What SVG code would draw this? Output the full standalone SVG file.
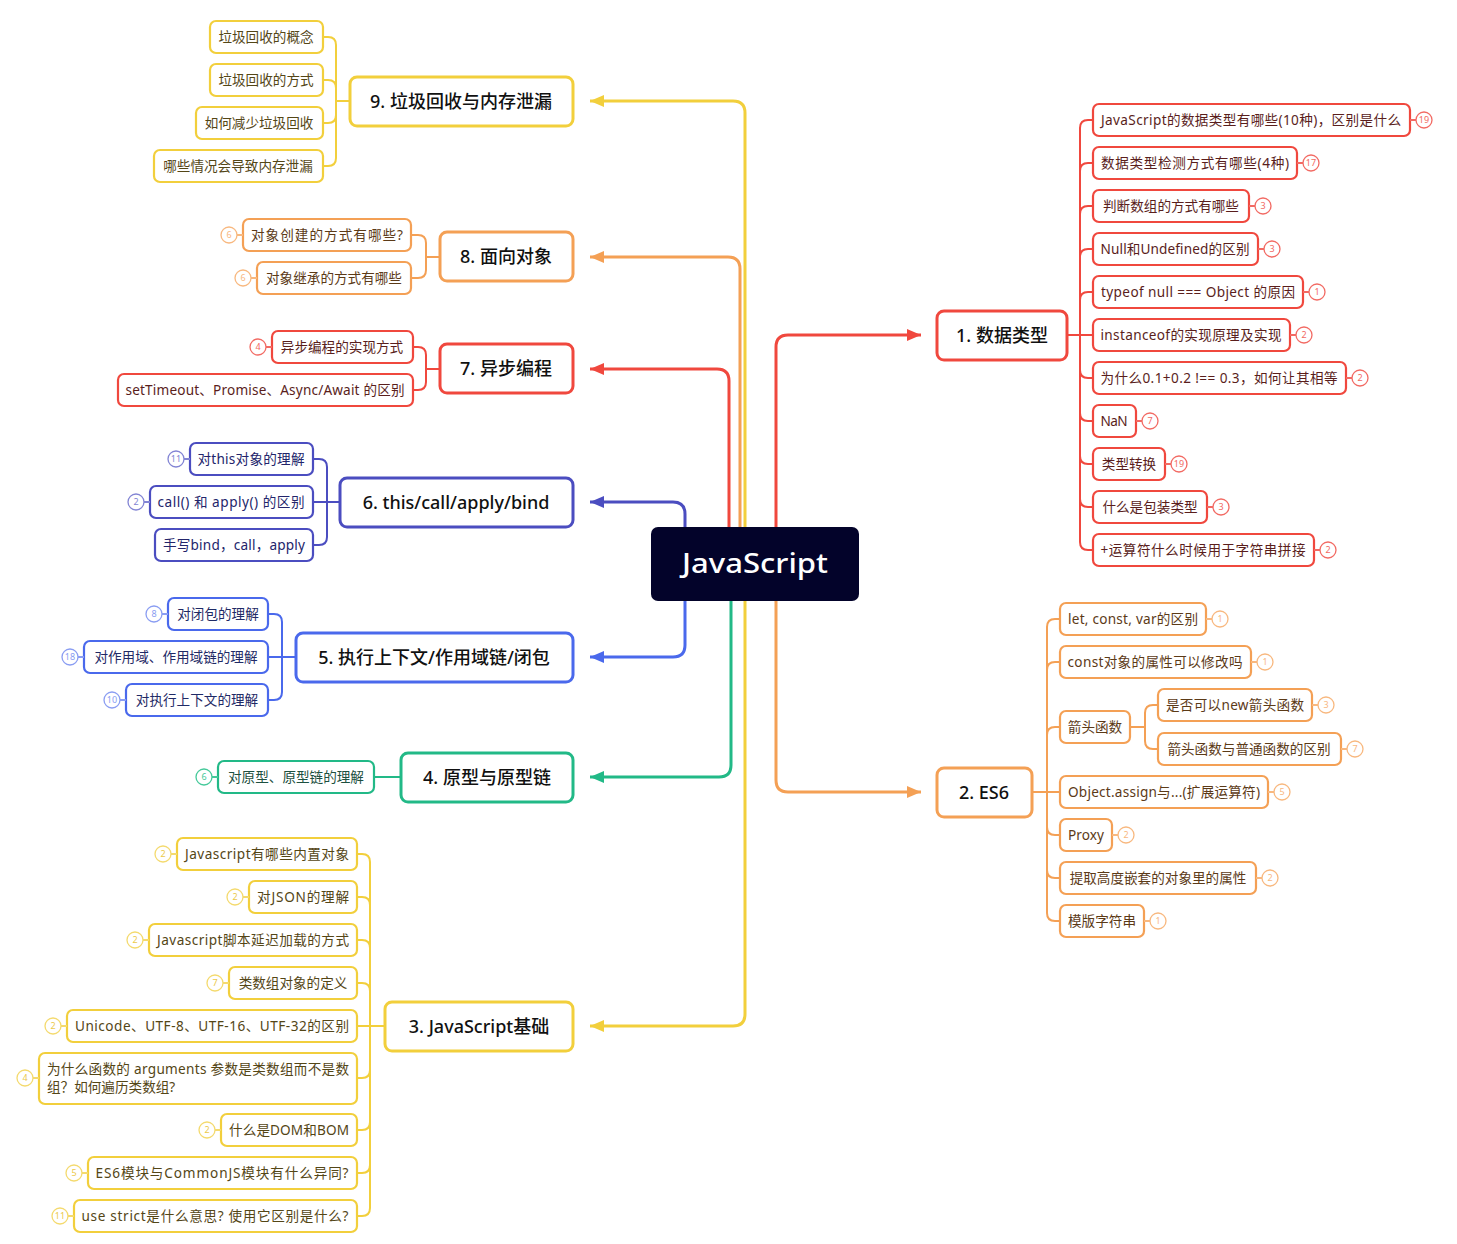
<svg xmlns="http://www.w3.org/2000/svg" width="1457" height="1244" viewBox="0 0 1457 1244">
<defs>
<style>
text{font-family:"Noto Sans","Noto Sans CJK SC",sans-serif}
.c{text-anchor:middle}
.sub{font-size:13.6px}
.mt{font-size:18px;font-weight:500;fill:#111;text-anchor:middle}
.bn{font-size:9px;text-anchor:middle}
.box{fill:#fff;stroke-width:2.2}
.mb{fill:#fff;stroke-width:3}
.ln{fill:none;stroke-width:2}
.cn{fill:none;stroke-width:3}
.bd{fill:#fff;stroke-width:1.3}
.r{stroke:#F0483E}.o{stroke:#F4A055}.y{stroke:#F2CF3C}.g{stroke:#22B987}.b{stroke:#4A69EC}.i{stroke:#4B4DC0}
.rb{stroke:#F26A63}.ob{stroke:#F8B87F}.yb{stroke:#F4DA6E}.gb{stroke:#45C99A}.bb{stroke:#8A9DF2}.ib{stroke:#8284D4}
.tr{fill:#5A1E1C}.to{fill:#5C3A17}.ty{fill:#544616}.tg{fill:#1D5040}.tb{fill:#1F2A66}.ti{fill:#23256B}
.nr{fill:#F26A63}.no{fill:#F8B87F}.ny{fill:#EBC94A}.ng{fill:#45C99A}.nb{fill:#8A9DF2}.ni{fill:#8284D4}
</style>
<marker id="aR" markerUnits="userSpaceOnUse" markerWidth="16" markerHeight="14" refX="14" refY="6" orient="auto"><path d="M0,0 L14,6 L0,12 z" fill="#F0483E"/></marker>
<marker id="aO" markerUnits="userSpaceOnUse" markerWidth="16" markerHeight="14" refX="14" refY="6" orient="auto"><path d="M0,0 L14,6 L0,12 z" fill="#F4A055"/></marker>
<marker id="aY" markerUnits="userSpaceOnUse" markerWidth="16" markerHeight="14" refX="14" refY="6" orient="auto"><path d="M0,0 L14,6 L0,12 z" fill="#F2CF3C"/></marker>
<marker id="aG" markerUnits="userSpaceOnUse" markerWidth="16" markerHeight="14" refX="14" refY="6" orient="auto"><path d="M0,0 L14,6 L0,12 z" fill="#22B987"/></marker>
<marker id="aB" markerUnits="userSpaceOnUse" markerWidth="16" markerHeight="14" refX="14" refY="6" orient="auto"><path d="M0,0 L14,6 L0,12 z" fill="#4A69EC"/></marker>
<marker id="aI" markerUnits="userSpaceOnUse" markerWidth="16" markerHeight="14" refX="14" refY="6" orient="auto"><path d="M0,0 L14,6 L0,12 z" fill="#4B4DC0"/></marker>
</defs>
<rect width="1457" height="1244" fill="#fff"/>

<g id="connectors">
<path class="cn r" d="M776,527V347Q776,335 788,335H921" marker-end="url(#aR)"/>
<path class="cn o" d="M776,601V780Q776,792 788,792H921" marker-end="url(#aO)"/>
<path class="cn y" d="M745,527V113Q745,101 733,101H590" marker-end="url(#aY)"/>
<path class="cn y" d="M745,601V1014Q745,1026 733,1026H590" marker-end="url(#aY)"/>
<path class="cn o" d="M740,527V269Q740,257 728,257H590" marker-end="url(#aO)"/>
<path class="cn r" d="M729,527V381Q729,369 717,369H590" marker-end="url(#aR)"/>
<path class="cn i" d="M685,527V514Q685,502 673,502H590" marker-end="url(#aI)"/>
<path class="cn b" d="M685,601V645Q685,657 673,657H590" marker-end="url(#aB)"/>
<path class="cn g" d="M731,601V765Q731,777 719,777H590" marker-end="url(#aG)"/>

<path class="ln r" d="M1067,335H1093M1080,335V128Q1080,120 1088,120H1093M1080,335V171Q1080,163 1088,163H1093M1080,335V214Q1080,206 1088,206H1093M1080,335V257Q1080,249 1088,249H1093M1080,335V300Q1080,292 1088,292H1093M1080,335V370Q1080,378 1088,378H1093M1080,335V413Q1080,421 1088,421H1093M1080,335V456Q1080,464 1088,464H1093M1080,335V499Q1080,507 1088,507H1093M1080,335V542Q1080,550 1088,550H1093"/>
<path class="ln o" d="M1032,792H1060M1047,792V627Q1047,619 1055,619H1060M1047,792V670Q1047,662 1055,662H1060M1047,792V735Q1047,727 1055,727H1060M1047,792V827Q1047,835 1055,835H1060M1047,792V870Q1047,878 1055,878H1060M1047,792V913Q1047,921 1055,921H1060"/>
<path class="ln o" d="M1130,727H1145V713Q1145,705 1153,705H1158M1145,727V741Q1145,749 1153,749H1158"/>
<path class="ln y" d="M350,101H336V45Q336,37 328,37H323M336,101V88Q336,80 328,80H323M336,101V115Q336,123 328,123H323M336,101V158Q336,166 328,166H323"/>
<path class="ln o" d="M440,257H426V243Q426,235 418,235H411M426,257V270Q426,278 418,278H411"/>
<path class="ln r" d="M440,369H426V355Q426,347 418,347H413M426,369V382Q426,390 418,390H413"/>
<path class="ln i" d="M340,502H313M327,502V467Q327,459 319,459H313M327,502V537Q327,545 319,545H313"/>
<path class="ln b" d="M296,657H268M282,657V622Q282,614 274,614H268M282,657V692Q282,700 274,700H268"/>
<path class="ln g" d="M401,777H374"/>
<path class="ln y" d="M385,1026H357M370,1026V862Q370,854 362,854H357M370,1026V905Q370,897 362,897H357M370,1026V948Q370,940 362,940H357M370,1026V991Q370,983 362,983H357M370,1026V1070Q370,1078 362,1078H357M370,1026V1122Q370,1130 362,1130H357M370,1026V1165Q370,1173 362,1173H357M370,1026V1208Q370,1216 362,1216H357"/>
</g>

<g id="center">
<rect x="651" y="527" width="208" height="74" rx="7" fill="#03032A"/>
<text x="0" y="0" class="c" transform="translate(755,573) scale(1.15,1)" font-size="27" font-weight="500" fill="#fff">JavaScript</text>
</g>

<g id="n1">
<rect class="mb r" x="937" y="311" width="130" height="49" rx="7"/>
<text class="mt" x="1002" y="342">1. 数据类型</text>
</g>
<g id="n1-1"><rect class="box r" x="1093" y="104" width="317" height="32" rx="6"/><text class="sub c tr" x="1251" y="125" textLength="300">JavaScript的数据类型有哪些(10种)，区别是什么</text><path class="ln rb" d="M1410,120H1416"/><circle class="bd rb" cx="1424" cy="120" r="8"/><text class="bn nr" x="1424" y="123">19</text></g>
<g id="n1-2"><rect class="box r" x="1093" y="147" width="204" height="32" rx="6"/><text class="sub c tr" x="1195" y="168" textLength="188">数据类型检测方式有哪些(4种)</text><path class="ln rb" d="M1297,163H1303"/><circle class="bd rb" cx="1311" cy="163" r="8"/><text class="bn nr" x="1311" y="166">17</text></g>
<g id="n1-3"><rect class="box r" x="1093" y="190" width="156" height="32" rx="6"/><text class="sub c tr" x="1171" y="211">判断数组的方式有哪些</text><path class="ln rb" d="M1249,206H1255"/><circle class="bd rb" cx="1263" cy="206" r="8"/><text class="bn nr" x="1263" y="209">3</text></g>
<g id="n1-4"><rect class="box r" x="1093" y="233" width="165" height="32" rx="6"/><text class="sub c tr" x="1175" y="254" textLength="149">Null和Undefined的区别</text><path class="ln rb" d="M1258,249H1264"/><circle class="bd rb" cx="1272" cy="249" r="8"/><text class="bn nr" x="1272" y="252">3</text></g>
<g id="n1-5"><rect class="box r" x="1093" y="276" width="210" height="32" rx="6"/><text class="sub c tr" x="1198" y="297" textLength="194">typeof null === Object 的原因</text><path class="ln rb" d="M1303,292H1309"/><circle class="bd rb" cx="1317" cy="292" r="8"/><text class="bn nr" x="1317" y="295">1</text></g>
<g id="n1-6"><rect class="box r" x="1093" y="319" width="197" height="32" rx="6"/><text class="sub c tr" x="1191" y="340" textLength="181">instanceof的实现原理及实现</text><path class="ln rb" d="M1290,335H1296"/><circle class="bd rb" cx="1304" cy="335" r="8"/><text class="bn nr" x="1304" y="338">2</text></g>
<g id="n1-7"><rect class="box r" x="1093" y="362" width="253" height="32" rx="6"/><text class="sub c tr" x="1219" y="383" textLength="237">为什么0.1+0.2 !== 0.3，如何让其相等</text><path class="ln rb" d="M1346,378H1352"/><circle class="bd rb" cx="1360" cy="378" r="8"/><text class="bn nr" x="1360" y="381">2</text></g>
<g id="n1-8"><rect class="box r" x="1093" y="405" width="43" height="32" rx="6"/><text class="sub c tr" x="1114" y="426" textLength="27">NaN</text><path class="ln rb" d="M1136,421H1142"/><circle class="bd rb" cx="1150" cy="421" r="8"/><text class="bn nr" x="1150" y="424">7</text></g>
<g id="n1-9"><rect class="box r" x="1093" y="448" width="72" height="32" rx="6"/><text class="sub c tr" x="1129" y="469">类型转换</text><path class="ln rb" d="M1165,464H1171"/><circle class="bd rb" cx="1179" cy="464" r="8"/><text class="bn nr" x="1179" y="467">19</text></g>
<g id="n1-10"><rect class="box r" x="1093" y="491" width="114" height="32" rx="6"/><text class="sub c tr" x="1150" y="512">什么是包装类型</text><path class="ln rb" d="M1207,507H1213"/><circle class="bd rb" cx="1221" cy="507" r="8"/><text class="bn nr" x="1221" y="510">3</text></g>
<g id="n1-11"><rect class="box r" x="1093" y="534" width="221" height="32" rx="6"/><text class="sub c tr" x="1203" y="555" textLength="205">+运算符什么时候用于字符串拼接</text><path class="ln rb" d="M1314,550H1320"/><circle class="bd rb" cx="1328" cy="550" r="8"/><text class="bn nr" x="1328" y="553">2</text></g>

<g id="n2">
<rect class="mb o" x="937" y="768" width="95" height="49" rx="7"/>
<text class="mt" x="984" y="799">2. ES6</text>
</g>
<g id="n2-1"><rect class="box o" x="1060" y="603" width="146" height="32" rx="6"/><text class="sub c to" x="1133" y="624" textLength="130">let, const, var的区别</text><path class="ln ob" d="M1206,619H1212"/><circle class="bd ob" cx="1220" cy="619" r="8"/><text class="bn no" x="1220" y="622">1</text></g>
<g id="n2-2"><rect class="box o" x="1060" y="646" width="191" height="32" rx="6"/><text class="sub c to" x="1155" y="667" textLength="175">const对象的属性可以修改吗</text><path class="ln ob" d="M1251,662H1257"/><circle class="bd ob" cx="1265" cy="662" r="8"/><text class="bn no" x="1265" y="665">1</text></g>
<g id="n2-3"><rect class="box o" x="1060" y="711" width="70" height="32" rx="6"/><text class="sub c to" x="1095" y="732">箭头函数</text></g>
<g id="n2-3-1"><rect class="box o" x="1158" y="689" width="154" height="32" rx="6"/><text class="sub c to" x="1235" y="710" textLength="138">是否可以new箭头函数</text><path class="ln ob" d="M1312,705H1318"/><circle class="bd ob" cx="1326" cy="705" r="8"/><text class="bn no" x="1326" y="708">3</text></g>
<g id="n2-3-2"><rect class="box o" x="1158" y="733" width="183" height="32" rx="6"/><text class="sub c to" x="1249" y="754">箭头函数与普通函数的区别</text><path class="ln ob" d="M1341,749H1347"/><circle class="bd ob" cx="1355" cy="749" r="8"/><text class="bn no" x="1355" y="752">7</text></g>
<g id="n2-4"><rect class="box o" x="1060" y="776" width="208" height="32" rx="6"/><text class="sub c to" x="1164" y="797" textLength="192">Object.assign与...(扩展运算符)</text><path class="ln ob" d="M1268,792H1274"/><circle class="bd ob" cx="1282" cy="792" r="8"/><text class="bn no" x="1282" y="795">5</text></g>
<g id="n2-5"><rect class="box o" x="1060" y="819" width="52" height="32" rx="6"/><text class="sub c to" x="1086" y="840" textLength="36">Proxy</text><path class="ln ob" d="M1112,835H1118"/><circle class="bd ob" cx="1126" cy="835" r="8"/><text class="bn no" x="1126" y="838">2</text></g>
<g id="n2-6"><rect class="box o" x="1060" y="862" width="196" height="32" rx="6"/><text class="sub c to" x="1158" y="883">提取高度嵌套的对象里的属性</text><path class="ln ob" d="M1256,878H1262"/><circle class="bd ob" cx="1270" cy="878" r="8"/><text class="bn no" x="1270" y="881">2</text></g>
<g id="n2-7"><rect class="box o" x="1060" y="905" width="84" height="32" rx="6"/><text class="sub c to" x="1102" y="926">模版字符串</text><path class="ln ob" d="M1144,921H1150"/><circle class="bd ob" cx="1158" cy="921" r="8"/><text class="bn no" x="1158" y="924">1</text></g>

<g id="n9">
<rect class="mb y" x="350" y="77" width="223" height="49" rx="7"/>
<text class="mt" x="461" y="108">9. 垃圾回收与内存泄漏</text>
</g>
<g id="n9-1"><rect class="box y" x="210" y="21" width="113" height="32" rx="6"/><text class="sub c ty" x="266" y="42">垃圾回收的概念</text></g>
<g id="n9-2"><rect class="box y" x="210" y="64" width="113" height="32" rx="6"/><text class="sub c ty" x="266" y="85">垃圾回收的方式</text></g>
<g id="n9-3"><rect class="box y" x="196" y="107" width="127" height="32" rx="6"/><text class="sub c ty" x="259" y="128">如何减少垃圾回收</text></g>
<g id="n9-4"><rect class="box y" x="154" y="150" width="169" height="32" rx="6"/><text class="sub c ty" x="238" y="171">哪些情况会导致内存泄漏</text></g>

<g id="n8">
<rect class="mb o" x="440" y="232" width="133" height="49" rx="7"/>
<text class="mt" x="506" y="263">8. 面向对象</text>
</g>
<g id="n8-1"><rect class="box o" x="243" y="219" width="168" height="32" rx="6"/><text class="sub c to" x="327" y="240" textLength="152">对象创建的方式有哪些?</text><path class="ln ob" d="M237,235H243"/><circle class="bd ob" cx="229" cy="235" r="8"/><text class="bn no" x="229" y="238">6</text></g>
<g id="n8-2"><rect class="box o" x="257" y="262" width="154" height="32" rx="6"/><text class="sub c to" x="334" y="283">对象继承的方式有哪些</text><path class="ln ob" d="M251,278H257"/><circle class="bd ob" cx="243" cy="278" r="8"/><text class="bn no" x="243" y="281">6</text></g>

<g id="n7">
<rect class="mb r" x="440" y="344" width="133" height="49" rx="7"/>
<text class="mt" x="506" y="375">7. 异步编程</text>
</g>
<g id="n7-1"><rect class="box r" x="272" y="331" width="141" height="32" rx="6"/><text class="sub c tr" x="342" y="352">异步编程的实现方式</text><path class="ln rb" d="M266,347H272"/><circle class="bd rb" cx="258" cy="347" r="8"/><text class="bn nr" x="258" y="350">4</text></g>
<g id="n7-2"><rect class="box r" x="118" y="374" width="295" height="32" rx="6"/><text class="sub c tr" x="265" y="395" textLength="279">setTimeout、Promise、Async/Await 的区别</text></g>

<g id="n6">
<rect class="mb i" x="340" y="478" width="233" height="49" rx="7"/>
<text class="mt" x="456" y="509">6. this/call/apply/bind</text>
</g>
<g id="n6-1"><rect class="box i" x="190" y="443" width="123" height="32" rx="6"/><text class="sub c ti" x="251" y="464" textLength="107">对this对象的理解</text><path class="ln ib" d="M184,459H190"/><circle class="bd ib" cx="176" cy="459" r="8"/><text class="bn ni" x="176" y="462">11</text></g>
<g id="n6-2"><rect class="box i" x="150" y="486" width="163" height="32" rx="6"/><text class="sub c ti" x="231" y="507" textLength="147">call() 和 apply() 的区别</text><path class="ln ib" d="M144,502H150"/><circle class="bd ib" cx="136" cy="502" r="8"/><text class="bn ni" x="136" y="505">2</text></g>
<g id="n6-3"><rect class="box i" x="155" y="529" width="158" height="32" rx="6"/><text class="sub c ti" x="234" y="550" textLength="142">手写bind，call，apply</text></g>

<g id="n5">
<rect class="mb b" x="296" y="633" width="277" height="49" rx="7"/>
<text class="mt" x="434" y="664">5. 执行上下文/作用域链/闭包</text>
</g>
<g id="n5-1"><rect class="box b" x="168" y="598" width="100" height="32" rx="6"/><text class="sub c tb" x="218" y="619">对闭包的理解</text><path class="ln bb" d="M162,614H168"/><circle class="bd bb" cx="154" cy="614" r="8"/><text class="bn nb" x="154" y="617">8</text></g>
<g id="n5-2"><rect class="box b" x="84" y="641" width="184" height="32" rx="6"/><text class="sub c tb" x="176" y="662">对作用域、作用域链的理解</text><path class="ln bb" d="M78,657H84"/><circle class="bd bb" cx="70" cy="657" r="8"/><text class="bn nb" x="70" y="660">18</text></g>
<g id="n5-3"><rect class="box b" x="126" y="684" width="142" height="32" rx="6"/><text class="sub c tb" x="197" y="705">对执行上下文的理解</text><path class="ln bb" d="M120,700H126"/><circle class="bd bb" cx="112" cy="700" r="8"/><text class="bn nb" x="112" y="703">10</text></g>

<g id="n4">
<rect class="mb g" x="401" y="753" width="172" height="49" rx="7"/>
<text class="mt" x="487" y="784">4. 原型与原型链</text>
</g>
<g id="n4-1"><rect class="box g" x="218" y="761" width="156" height="32" rx="6"/><text class="sub c tg" x="296" y="782">对原型、原型链的理解</text><path class="ln gb" d="M212,777H218"/><circle class="bd gb" cx="204" cy="777" r="8"/><text class="bn ng" x="204" y="780">6</text></g>

<g id="n3">
<rect class="mb y" x="385" y="1002" width="188" height="49" rx="7"/>
<text class="mt" x="479" y="1033">3. JavaScript基础</text>
</g>
<g id="n3-1"><rect class="box y" x="177" y="838" width="180" height="32" rx="6"/><text class="sub c ty" x="267" y="859" textLength="164">Javascript有哪些内置对象</text><path class="ln yb" d="M171,854H177"/><circle class="bd yb" cx="163" cy="854" r="8"/><text class="bn ny" x="163" y="857">2</text></g>
<g id="n3-2"><rect class="box y" x="249" y="881" width="108" height="32" rx="6"/><text class="sub c ty" x="303" y="902" textLength="92">对JSON的理解</text><path class="ln yb" d="M243,897H249"/><circle class="bd yb" cx="235" cy="897" r="8"/><text class="bn ny" x="235" y="900">2</text></g>
<g id="n3-3"><rect class="box y" x="149" y="924" width="208" height="32" rx="6"/><text class="sub c ty" x="253" y="945" textLength="192">Javascript脚本延迟加载的方式</text><path class="ln yb" d="M143,940H149"/><circle class="bd yb" cx="135" cy="940" r="8"/><text class="bn ny" x="135" y="943">2</text></g>
<g id="n3-4"><rect class="box y" x="229" y="967" width="128" height="32" rx="6"/><text class="sub c ty" x="293" y="988">类数组对象的定义</text><path class="ln yb" d="M223,983H229"/><circle class="bd yb" cx="215" cy="983" r="8"/><text class="bn ny" x="215" y="986">7</text></g>
<g id="n3-5"><rect class="box y" x="67" y="1010" width="290" height="32" rx="6"/><text class="sub c ty" x="212" y="1031" textLength="274">Unicode、UTF-8、UTF-16、UTF-32的区别</text><path class="ln yb" d="M61,1026H67"/><circle class="bd yb" cx="53" cy="1026" r="8"/><text class="bn ny" x="53" y="1029">2</text></g>
<g id="n3-6"><rect class="box y" x="39" y="1053" width="318" height="51" rx="6"/><text class="sub ty" x="47" y="1074" textLength="302">为什么函数的 arguments 参数是类数组而不是数</text><text class="sub ty" x="47" y="1092">组？如何遍历类数组?</text><path class="ln yb" d="M33,1078H39"/><circle class="bd yb" cx="25" cy="1078" r="8"/><text class="bn ny" x="25" y="1081">4</text></g>
<g id="n3-7"><rect class="box y" x="221" y="1114" width="136" height="32" rx="6"/><text class="sub c ty" x="289" y="1135" textLength="120">什么是DOM和BOM</text><path class="ln yb" d="M215,1130H221"/><circle class="bd yb" cx="207" cy="1130" r="8"/><text class="bn ny" x="207" y="1133">2</text></g>
<g id="n3-8"><rect class="box y" x="88" y="1157" width="269" height="32" rx="6"/><text class="sub c ty" x="222" y="1178" textLength="253">ES6模块与CommonJS模块有什么异同?</text><path class="ln yb" d="M82,1173H88"/><circle class="bd yb" cx="74" cy="1173" r="8"/><text class="bn ny" x="74" y="1176">5</text></g>
<g id="n3-9"><rect class="box y" x="74" y="1200" width="283" height="32" rx="6"/><text class="sub c ty" x="215" y="1221" textLength="267">use strict是什么意思? 使用它区别是什么?</text><path class="ln yb" d="M68,1216H74"/><circle class="bd yb" cx="60" cy="1216" r="8"/><text class="bn ny" x="60" y="1219">11</text></g>
</svg>
